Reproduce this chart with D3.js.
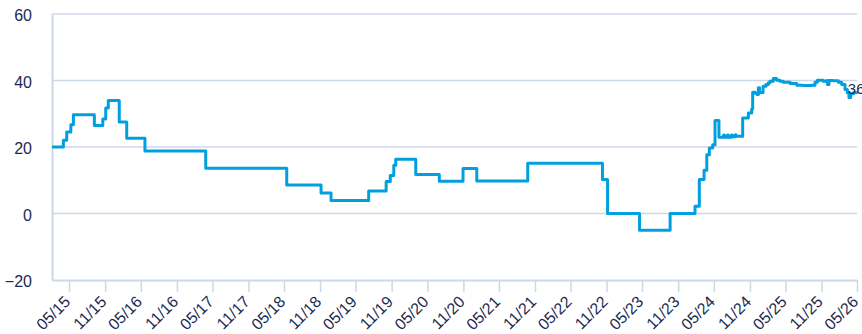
<!DOCTYPE html>
<html>
<head>
<meta charset="utf-8">
<script src="https://cdn.jsdelivr.net/npm/d3@7/dist/d3.min.js"></script>
<style>
  html, body { margin: 0; padding: 0; background: #ffffff; }
  svg { display: block; font-family: "Liberation Sans", Arial, sans-serif; }
</style>
</head>
<body>
<svg id="chart" width="862" height="334"></svg>
<script>
// Observation dates (step changes) and the series value from each date on
const dates = [
  "2015-02-03","2015-04-02","2015-04-19","2015-05-10","2015-05-23","2015-09-07","2015-10-20",
  "2015-11-04","2015-11-17","2016-01-12","2016-02-19","2016-05-22","2017-03-28","2018-05-15",
  "2018-11-06","2018-12-27","2019-07-07","2019-10-04","2019-10-25","2019-11-12","2019-11-22",
  "2020-03-03","2020-07-01","2020-10-30","2021-01-08","2021-09-25","2022-10-11","2022-11-06",
  "2023-04-18","2023-09-21","2024-01-26","2024-02-17","2024-03-12","2024-03-26","2024-04-08",
  "2024-04-25","2024-05-07","2024-05-27","2024-06-20","2024-06-24","2024-07-10","2024-07-14",
  "2024-07-30","2024-08-03","2024-08-18","2024-08-22","2024-09-25","2024-10-24","2024-11-10",
  "2024-11-15","2024-11-28","2024-12-08","2024-12-14","2024-12-20","2025-01-07","2025-01-22",
  "2025-02-03","2025-02-11","2025-02-28","2025-03-17","2025-04-03","2025-04-20","2025-05-25",
  "2025-06-28","2025-07-31","2025-09-12","2025-09-29","2025-10-11","2025-11-10","2025-11-27",
  "2025-12-02","2025-12-09","2025-12-31","2026-01-26","2026-02-12","2026-03-01","2026-03-13",
  "2026-03-21","2026-03-30","2026-04-12","2026-04-30"
];
const values = [
  20, 22, 24.5, 26.7, 29.7, 26.5, 28.4,
  31.7, 34, 27.5, 22.6, 18.8, 13.6, 8.6,
  6.2, 3.9, 6.8, 9.6, 11.4, 14.5, 16.3,
  11.7, 9.7, 13.5, 9.8, 15.1, 10.2, 0,
  -5, 0, 2.2, 10.2, 13, 17.7, 19.7,
  20.7, 28, 22.9, 23.6, 22.9, 23.6, 22.9,
  23.6, 23.1, 23.7, 23.2, 28.7, 30.2, 31.4,
  36.5, 36.2, 35.8, 37.8, 36.4, 38.3, 38.8,
  39.3, 39.8, 40.6, 40.1, 39.8, 39.5, 39.1,
  38.6, 38.5, 38.6, 39.5, 40.1, 39.8, 40,
  38.8, 40, 39.9, 39.5, 38.8, 37.3, 36.3,
  34.9, 36, 36.3, 36
];
const yTicks = [-20, 0, 20, 40, 60];
const xTickDates = [
  "2015-05-01","2015-11-01","2016-05-01","2016-11-01","2017-05-01","2017-11-01","2018-05-01",
  "2018-11-01","2019-05-01","2019-11-01","2020-05-01","2020-11-01","2021-05-01","2021-11-01",
  "2022-05-01","2022-11-01","2023-05-01","2023-11-01","2024-05-01","2024-11-01","2025-05-01",
  "2025-11-01","2026-05-01"
];
const lastLabel = "36";

const parse = d3.timeParse("%Y-%m-%d");
const series = dates.map((d, i) => ({ date: parse(d), value: values[i] }));
const tickDates = xTickDates.map(parse);

const plotLeft = 52, plotRight = 857, plotTop = 14, plotBottom = 280;
const svg = d3.select("#chart");

const x = d3.scaleTime()
  .domain([parse("2015-02-03"), parse("2026-05-01")])
  .range([plotLeft, plotRight]);
const y = d3.scaleLinear().domain([-20, 60]).range([plotBottom, plotTop]);

const gridColor = "#cdd8e7";
const textColor = "#1b2a50";
const fontFamily = "'Liberation Sans', Arial, sans-serif";

// horizontal gridlines
svg.append("g")
  .selectAll("line")
  .data(yTicks.filter(t => t !== -20))
  .join("line")
  .attr("x1", plotLeft).attr("x2", plotRight)
  .attr("y1", d => y(d)).attr("y2", d => y(d))
  .attr("stroke", gridColor).attr("stroke-width", 1.5);

// y axis
const yAxis = svg.append("g")
  .attr("transform", `translate(${plotLeft},0)`)
  .call(d3.axisLeft(y).tickValues(yTicks).tickSize(0).tickPadding(20).tickFormat(d3.format("d")));
yAxis.select(".domain").attr("stroke", gridColor).attr("stroke-width", 2);
yAxis.selectAll("text").attr("fill", textColor).attr("font-size", 16)
  .attr("font-family", fontFamily).attr("dy", "0.42em");

// x axis
const xAxis = svg.append("g")
  .attr("transform", `translate(0,${plotBottom})`)
  .call(d3.axisBottom(x).tickValues(tickDates).tickSize(12).tickSizeOuter(0)
    .tickFormat(d3.timeFormat("%m/%y")));
xAxis.select(".domain").attr("stroke", gridColor).attr("stroke-width", 2);
xAxis.selectAll(".tick line").attr("stroke", gridColor).attr("stroke-width", 1.5);
xAxis.selectAll("text")
  .attr("fill", textColor).attr("font-size", 16)
  .attr("font-family", fontFamily)
  .attr("text-anchor", "end")
  .attr("transform", "translate(-5,16) rotate(-45)")
  .attr("x", 0).attr("y", 0).attr("dy", "0.6em");

// series line
const line = d3.line()
  .x(d => x(d.date))
  .y(d => y(d.value))
  .curve(d3.curveStepAfter);

svg.append("path")
  .datum(series)
  .attr("fill", "none")
  .attr("stroke", "#00a0df")
  .attr("stroke-width", 3)
  .attr("stroke-linejoin", "round")
  .attr("d", line);

// end value label
const last = series[series.length - 1];
svg.append("text")
  .attr("x", x(last.date) - 9)
  .attr("y", y(last.value) - 5)
  .attr("dy", "0.35em")
  .attr("fill", textColor)
  .attr("font-size", 15)
  .attr("font-family", fontFamily)
  .text(lastLabel);
</script>
</body>
</html>
